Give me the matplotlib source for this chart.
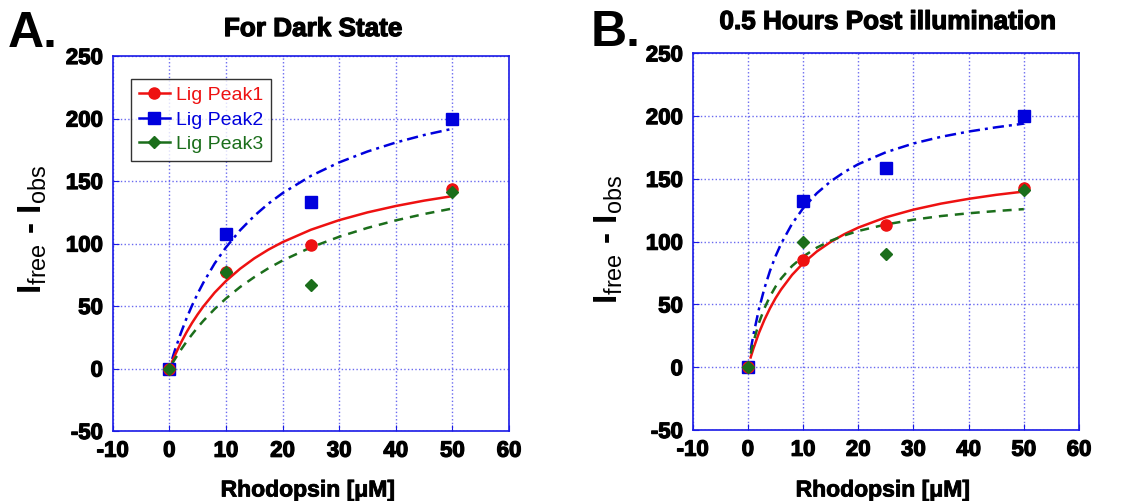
import matplotlib
matplotlib.use("Agg")
import matplotlib.pyplot as plt
import matplotlib.patheffects as pe
from matplotlib.lines import Line2D

plt.rcParams['font.family'] = ['Liberation Sans', 'DejaVu Sans']
plt.rcParams['mathtext.fontset'] = 'custom'
plt.rcParams['mathtext.rm'] = 'Liberation Sans'
plt.rcParams['mathtext.bf'] = 'Liberation Sans:bold'
plt.rcParams['axes.unicode_minus'] = False

#================ données ================

conc = [0, 10, 25, 50]

dark_peak1 = [0, 77, 99, 144]
dark_peak2 = [0, 108, 133, 200]
dark_peak3 = [0, 77, 67, 141]

post_peak1 = [0, 85, 113, 143]
post_peak2 = [0, 132, 159, 200]
post_peak3 = [0, 100, 90, 141]

# courbes d'ajustement (valeurs lues)
fit_x = [0.5, 1, 2, 3, 4, 5, 6, 8, 10, 12.5, 15, 17.5, 20, 25, 30, 35, 40, 45, 50]

dark_fit1 = [5.5, 10.7, 20.2, 28.7, 36.4, 43.3, 49.6, 60.7, 70.0, 79.8, 88.1, 95.1, 101.1,
             111.0, 118.7, 124.9, 130.0, 134.3, 137.9]
dark_fit2 = [7.6, 14.8, 27.9, 39.7, 50.3, 59.9, 68.6, 84.0, 96.9, 110.6, 122.1, 131.9, 140.3,
             154.1, 164.9, 173.6, 180.8, 186.8, 191.8]
dark_fit3 = [3.9, 7.6, 14.7, 21.2, 27.2, 32.9, 38.1, 47.6, 56.0, 65.2, 73.1, 80.2, 86.4,
             96.9, 105.4, 112.5, 118.5, 123.6, 128.0]

post_fit1 = [7.8, 14.8, 27.3, 37.8, 46.9, 54.9, 61.8, 73.5, 82.8, 92.2, 99.8, 106.0, 111.2,
             119.4, 125.5, 130.3, 134.1, 137.3, 139.9]
post_fit2 = [13.7, 25.8, 46.3, 62.9, 76.7, 88.3, 98.2, 114.2, 126.6, 138.6, 148.0, 155.5, 161.7,
             171.2, 178.2, 183.5, 187.7, 191.1, 194.0]
post_fit3 = [10.8, 20.1, 35.3, 47.0, 56.4, 64.1, 70.5, 80.6, 88.1, 95.3, 100.7, 105.0, 108.5,
             113.7, 117.5, 120.4, 122.6, 124.4, 125.9]

labels = ["Lig Peak1", "Lig Peak2", "Lig Peak3"]
titles = ["For Dark State", "0.5 Hours Post illumination"]

red = '#ee1111'
blue = '#0000dd'
green = '#1b6e1b'
frame = '#1a1ae6'
gridc = '#6a6af0'

heavy = [pe.withStroke(linewidth=0.9, foreground='black')]

fig = plt.figure(figsize=(11.35, 5.01), dpi=100)
ax1 = fig.add_axes([0.0993, 0.1397, 0.3492, 0.7485])
ax2 = fig.add_axes([0.6103, 0.1417, 0.3404, 0.7519])

panels = [
    (ax1, dark_peak1, dark_peak2, dark_peak3, dark_fit1, dark_fit2, dark_fit3),
    (ax2, post_peak1, post_peak2, post_peak3, post_fit1, post_fit2, post_fit3),
]

for i, (ax, p1, p2, p3, f1, f2, f3) in enumerate(panels):
    ax.plot(fit_x, f2, color=blue, lw=1.8, dashes=(4.5, 2, 1.2, 2), zorder=3)
    ax.plot(fit_x, f1, color=red, lw=1.8, zorder=3)
    ax.plot(fit_x, f3, color=green, lw=1.8, dashes=(3.6, 2.8), zorder=3)

    ax.plot(conc, p2, ls='none', marker='s', ms=8, color=blue, zorder=4)
    ax.plot(conc, p1, ls='none', marker='o', ms=8, color=red, zorder=5)
    ax.plot(conc, p3, ls='none', marker='D', ms=6.5, color=green, zorder=6)

    ax.set_xlim(-10, 60)
    ax.set_ylim(-50, 250)
    ax.set_xticks(range(-10, 61, 10))
    ax.set_yticks(range(-50, 251, 50))
    ax.grid(True, color=gridc, ls=':', lw=1.0)
    ax.set_axisbelow(True)
    for s in ax.spines.values():
        s.set_color(frame)
        s.set_linewidth(1.2)
    ax.tick_params(direction='in', length=4, color=frame, labelsize=16, pad=7)
    for t in ax.get_xticklabels() + ax.get_yticklabels():
        t.set_fontweight('bold')
        t.set_path_effects(heavy)

    cx = (ax.get_position().x0 + ax.get_position().x1) / 2
    fig.text(cx + 0.002, [0.942, 0.956][i], titles[i], ha='center', va='center',
             fontsize=18.8, fontweight='bold', path_effects=heavy)
    fig.text(cx - 0.003, 0.022, u"Rhodopsin [\u03bcM]", ha='center', va='center',
             fontsize=16.5, fontweight='bold', path_effects=[pe.withStroke(linewidth=0.6, foreground='black')])

# étiquettes y
ylab = r'$\mathbf{I}_{\mathrm{free}}$' + ' - ' + r'$\mathbf{I}_{\mathrm{obs}}$'
for xp, yp in [(33, 230), (609, 240)]:
    fig.text(xp / 1135, 1 - yp / 501, ylab, rotation=90, ha='center', va='center',
             fontsize=24, fontweight='bold')

# lettres des panneaux
fig.text(8 / 1135, 1 - 34 / 501, "A.", fontsize=36, fontweight='bold', ha='left', va='center')
fig.text(591 / 1135, 1 - 33 / 501, "B.", fontsize=36, fontweight='bold', ha='left', va='center')

# légende
handles = [
    Line2D([], [], color=red, lw=1.8, marker='o', ms=8),
    Line2D([], [], color=blue, lw=1.8, marker='s', ms=8),
    Line2D([], [], color=green, lw=1.8, marker='D', ms=6.5),
]
leg = ax1.legend(handles, labels, loc='upper left', bbox_to_anchor=(0.046, 0.939),
                 borderaxespad=0, fontsize=14, frameon=True, fancybox=False,
                 handlelength=1.6, handletextpad=0.3, labelspacing=0.35,
                 borderpad=0.4, labelcolor=[red, blue, green])
leg.get_frame().set_edgecolor('black')
leg.get_frame().set_linewidth(1.0)

fig.savefig("out.png", dpi=100)
